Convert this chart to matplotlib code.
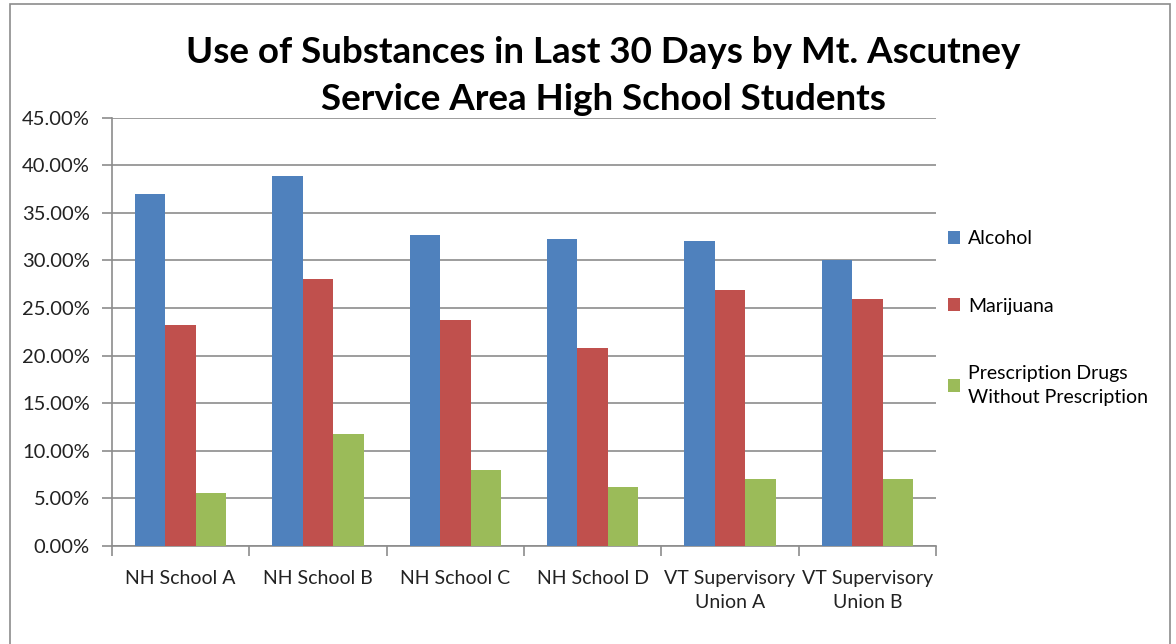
import matplotlib.pyplot as plt
import numpy as np
from matplotlib.patches import Rectangle
from matplotlib.ticker import PercentFormatter

plt.rcParams['font.family'] = ['Lato', 'DejaVu Sans']

schools = ['NH School A', 'NH School B', 'NH School C', 'NH School D',
           'VT Supervisory\nUnion A', 'VT Supervisory\nUnion B']
alcohol = [37.0, 38.9, 32.7, 32.2, 32.0, 30.0]
marijuana = [23.2, 28.0, 23.7, 20.8, 26.9, 26.0]
rx_drugs = [5.6, 11.8, 8.0, 6.2, 7.0, 7.0]
series_names = ['Alcohol', 'Marijuana', 'Prescription Drugs\nWithout Prescription']
colors = ['#4F81BD', '#C0504D', '#9BBB59']

fig = plt.figure(figsize=(11.76, 6.44), dpi=100)
ax = fig.add_axes([0.0952, 0.152, 0.7007, 0.6654])

x = np.arange(len(schools))
w = 1 / 4.5
for i, (vals, name, c) in enumerate(zip([alcohol, marijuana, rx_drugs], series_names, colors)):
    ax.bar(x + (i - 1) * w, vals, width=w, color=c, label=name, zorder=3)

ax.set_xlim(-0.5, len(schools) - 0.5)
ax.set_ylim(0, 45)
ax.set_yticks(np.arange(0, 46, 5))
ax.yaxis.set_major_formatter(PercentFormatter(decimals=2))
ax.grid(axis='y', color='#8c8c8c', linewidth=1.2, zorder=0)

ax.set_xticks(x)
ax.set_xticklabels(schools, fontsize=14, color='#222222', linespacing=1.5)
ax.set_xticks(np.arange(-0.5, len(schools)), minor=True)
ax.tick_params(axis='x', which='major', length=0, pad=17)
ax.tick_params(axis='x', which='minor', length=7, color='#8c8c8c', width=1.2)
ax.tick_params(axis='y', length=7, color='#8c8c8c', width=1.2, labelsize=14.5,
               labelcolor='#222222', pad=9)

for side in ['top', 'right']:
    ax.spines[side].set_visible(False)
for side in ['left', 'bottom']:
    ax.spines[side].set_color('#8c8c8c')
    ax.spines[side].set_linewidth(1.2)

fig.text(0.513, 0.919, 'Use of Substances in Last 30 Days by Mt. Ascutney',
         ha='center', va='center', fontsize=26.5, fontweight='bold')
fig.text(0.513, 0.845, 'Service Area High School Students',
         ha='center', va='center', fontsize=26.5, fontweight='bold')

leg = ax.legend(loc='upper left', bbox_to_anchor=(0.993, 0.778), frameon=False,
                fontsize=14, handlelength=0.65, handleheight=0.65,
                handletextpad=0.4, labelspacing=2.6)
for t in leg.get_texts():
    t.set_linespacing(1.45)

# chart area border
fig.patches.append(Rectangle((10 / 1176, -0.05), 1160 / 1176, 1.0 - 4 / 644 + 0.05,
                             transform=fig.transFigure, fill=False,
                             edgecolor='#8c8c8c', linewidth=1.2))

fig.savefig('out.png', dpi=100)
